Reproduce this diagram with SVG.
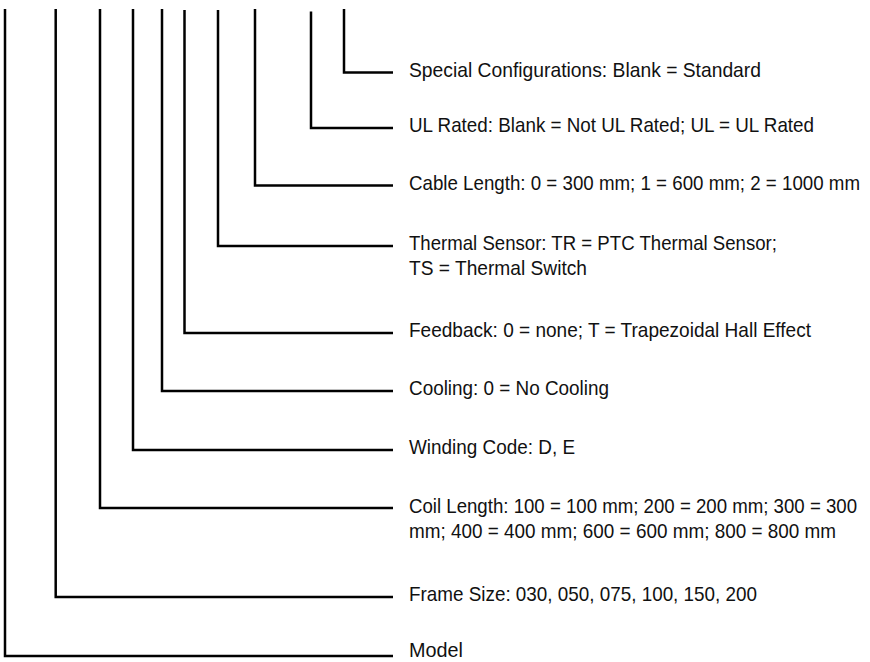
<svg xmlns="http://www.w3.org/2000/svg" width="870" height="662" viewBox="0 0 870 662">
<style>
.c{fill:none;stroke:#000;stroke-width:2.5;stroke-linejoin:miter;stroke-linecap:butt}
.t{font-family:"Liberation Sans Narrow","Liberation Sans",Arial,sans-serif;font-size:20px;fill:#111}
</style>
<rect width="870" height="662" fill="#fff"/>
<g id="connectors">
<path class="c" d="M344,9 V72.5 H393"/>
<path class="c" d="M311,11.5 V128 H393"/>
<path class="c" d="M255,9 V185.5 H393"/>
<path class="c" d="M218,10 V246 H393"/>
<path class="c" d="M184.5,10 V333 H393"/>
<path class="c" d="M162,9 V391 H393"/>
<path class="c" d="M133,9 V450 H393"/>
<path class="c" d="M100,9 V508 H393"/>
<path class="c" d="M55.7,9 V597 H393"/>
<path class="c" d="M5,9 V656 H393"/>
</g>
<g id="special" transform="matrix(0.85 0 0 1 409 0)"><text class="t" x="0" y="77" textLength="414.1" lengthAdjust="spacingAndGlyphs">Special Configurations: Blank = Standard</text></g>
<g id="ul" transform="matrix(0.85 0 0 1 409 0)"><text class="t" x="0" y="132.5" textLength="476.5" lengthAdjust="spacingAndGlyphs">UL Rated: Blank = Not UL Rated; UL = UL Rated</text></g>
<g id="cable" transform="matrix(0.85 0 0 1 409 0)"><text class="t" x="0" y="190" textLength="530.6" lengthAdjust="spacingAndGlyphs">Cable Length: 0 = 300 mm; 1 = 600 mm; 2 = 1000 mm</text></g>
<g id="thermal" transform="matrix(0.85 0 0 1 409 0)"><text class="t" x="0" y="250.5" textLength="432.9" lengthAdjust="spacingAndGlyphs">Thermal Sensor: TR = PTC Thermal Sensor;</text><text class="t" x="0" y="275.5" textLength="209.4" lengthAdjust="spacingAndGlyphs">TS = Thermal Switch</text></g>
<g id="feedback" transform="matrix(0.85 0 0 1 409 0)"><text class="t" x="0" y="337.5" textLength="472.9" lengthAdjust="spacingAndGlyphs">Feedback: 0 = none; T = Trapezoidal Hall Effect</text></g>
<g id="cooling" transform="matrix(0.85 0 0 1 409 0)"><text class="t" x="0" y="395.5" textLength="235.3" lengthAdjust="spacingAndGlyphs">Cooling: 0 = No Cooling</text></g>
<g id="winding" transform="matrix(0.85 0 0 1 409 0)"><text class="t" x="0" y="454.5" textLength="195.3" lengthAdjust="spacingAndGlyphs">Winding Code: D, E</text></g>
<g id="coil" transform="matrix(0.85 0 0 1 409 0)"><text class="t" x="0" y="513.5" textLength="527.1" lengthAdjust="spacingAndGlyphs">Coil Length: 100 = 100 mm; 200 = 200 mm; 300 = 300</text><text class="t" x="0" y="538.5" textLength="502.4" lengthAdjust="spacingAndGlyphs">mm; 400 = 400 mm; 600 = 600 mm; 800 = 800 mm</text></g>
<g id="frame" transform="matrix(0.85 0 0 1 409 0)"><text class="t" x="0" y="601.5" textLength="409.4" lengthAdjust="spacingAndGlyphs">Frame Size: 030, 050, 075, 100, 150, 200</text></g>
<g id="model" transform="matrix(0.85 0 0 1 409 0)"><text class="t" x="0" y="657.5" textLength="63.5" lengthAdjust="spacingAndGlyphs">Model</text></g>
</svg>
